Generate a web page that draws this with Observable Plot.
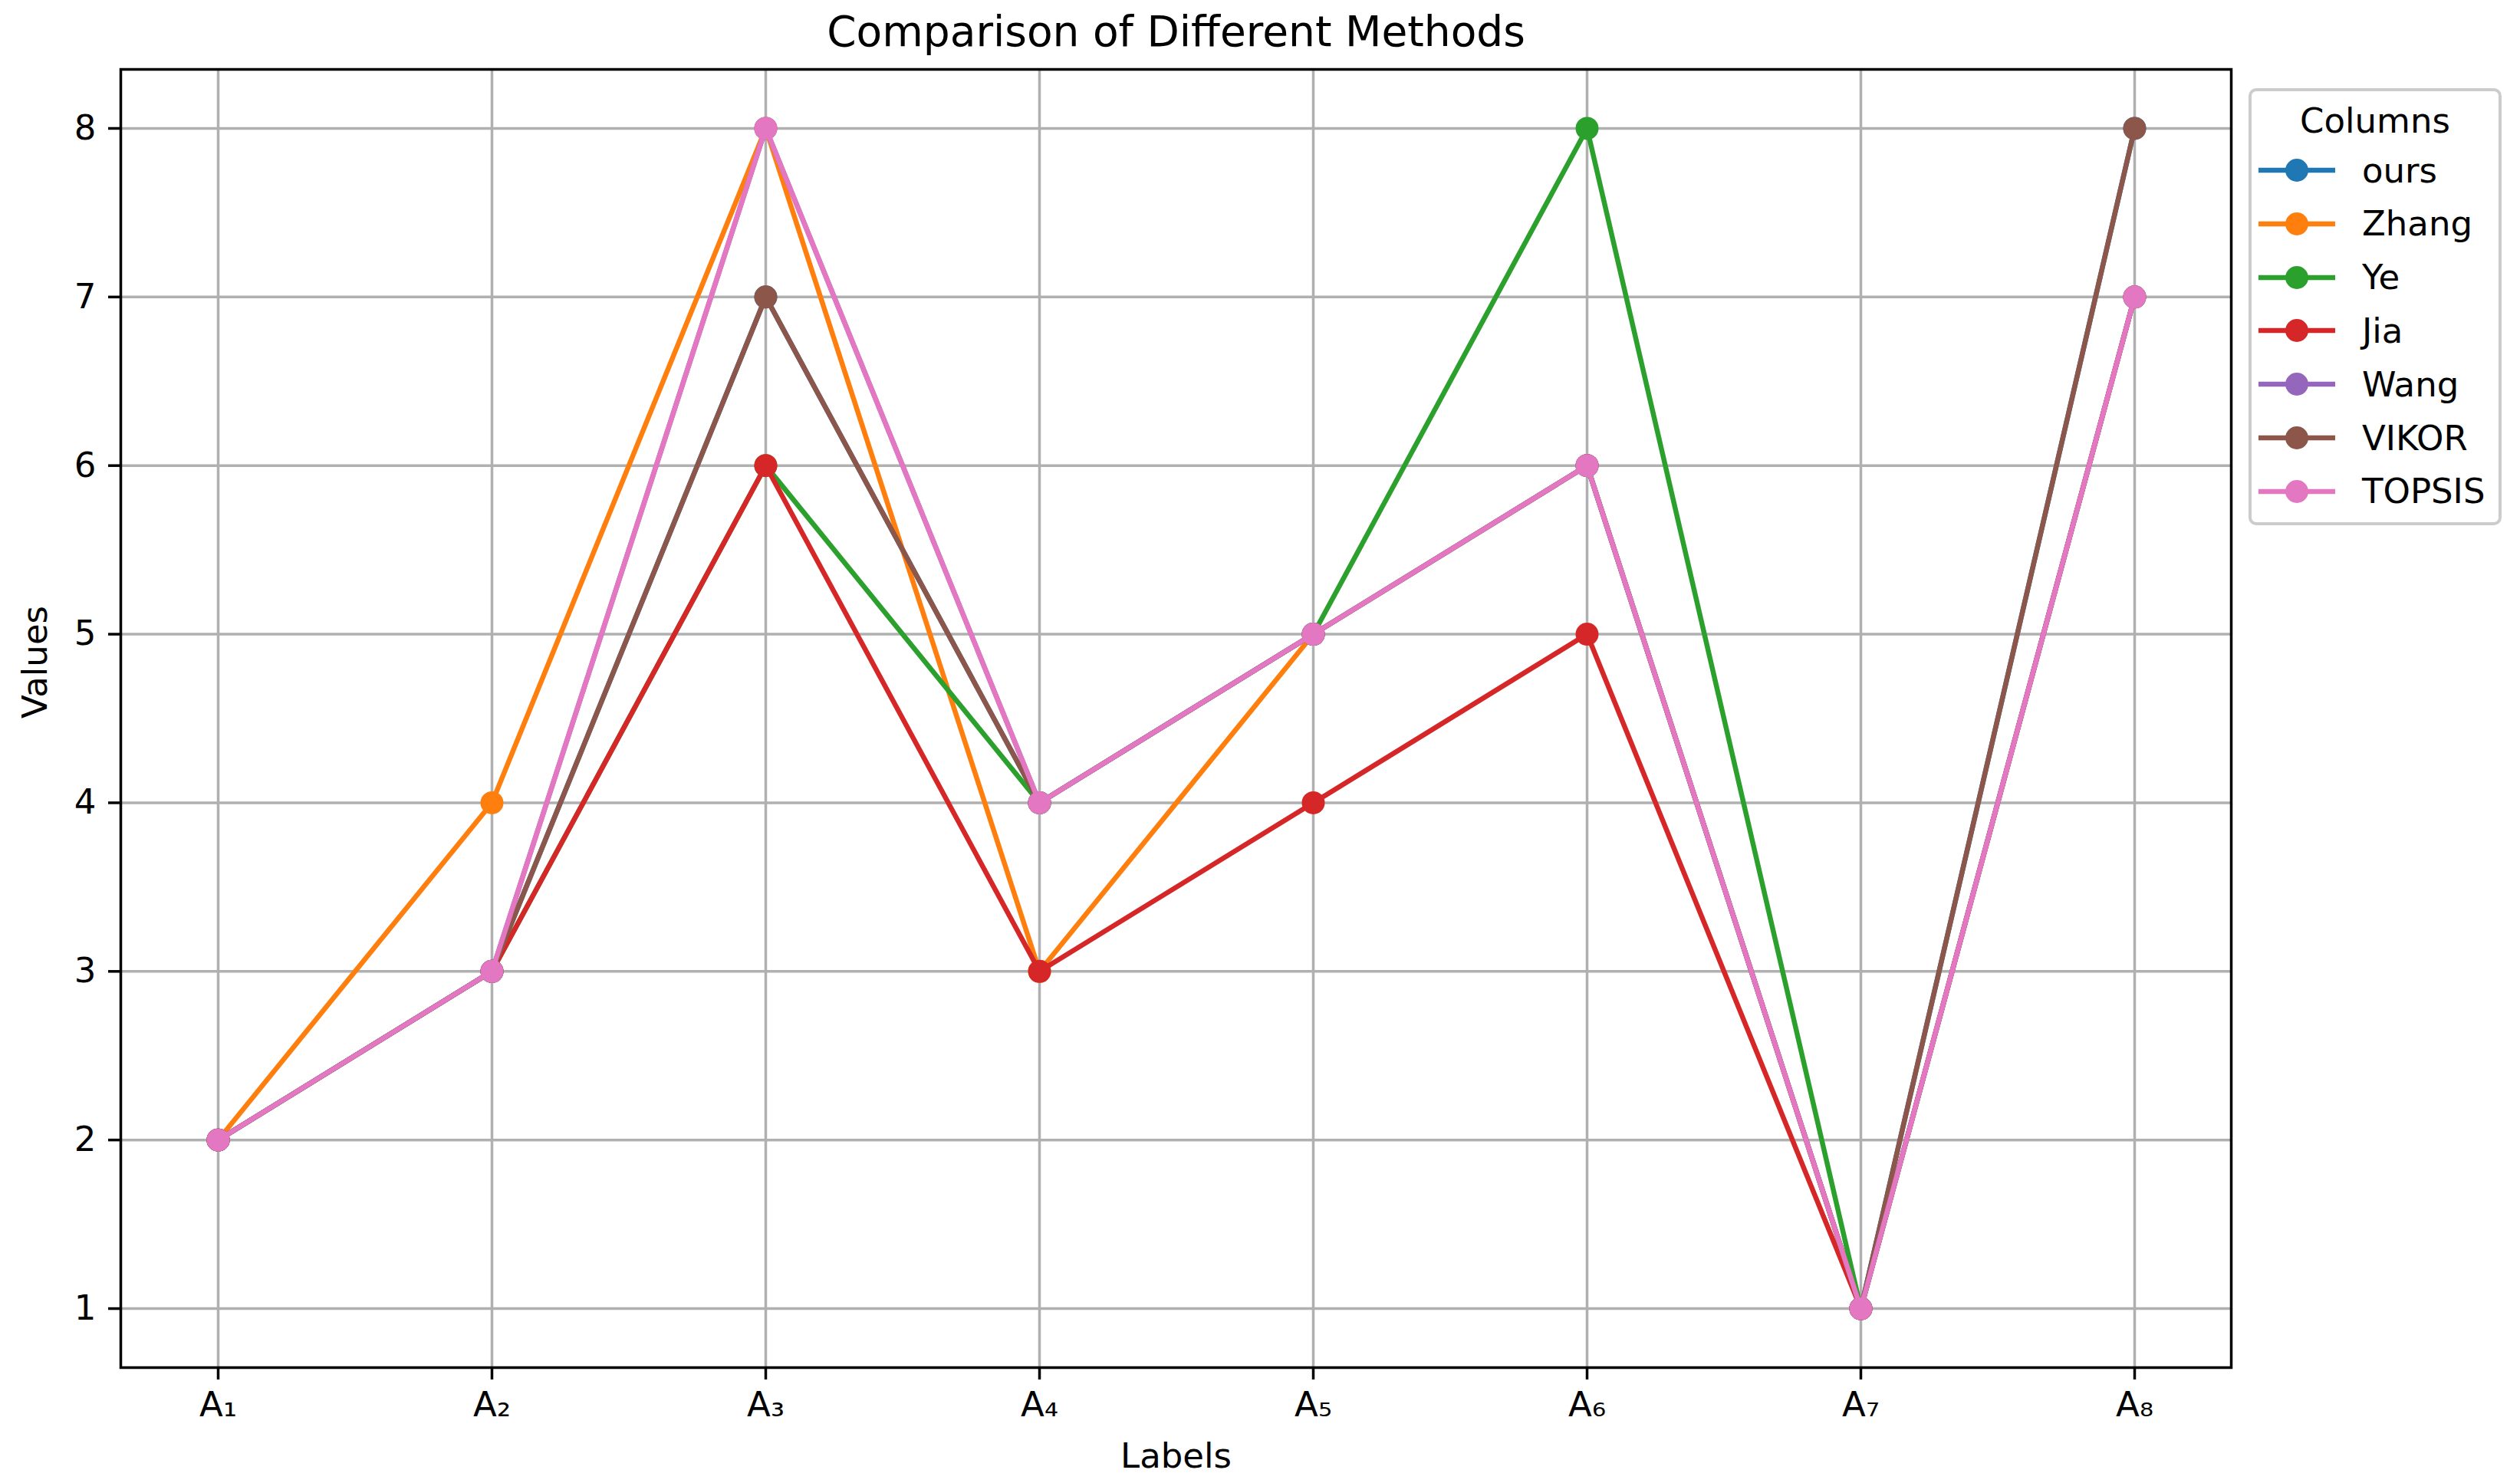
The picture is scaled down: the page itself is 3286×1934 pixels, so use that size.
<!DOCTYPE html>
<html>
<head>
<meta charset="utf-8">
<script src="https://cdn.jsdelivr.net/npm/d3@7"></script>
<script src="https://cdn.jsdelivr.net/npm/@observablehq/plot@0.6"></script>
<style>
  html, body { margin: 0; padding: 0; background: white; }
  #wrap { position: relative; width: 3286px; height: 1934px; font-family: "DejaVu Sans", sans-serif; }
  #legend { position: absolute; left: 2932px; top: 115px; width: 330px; height: 570px; box-sizing: border-box;
            border: 4px solid #cccccc; border-radius: 10px; background: rgba(255,255,255,0.8); }
  #legend .title { position: absolute; left: 0; right: 0; top: 38px; transform: translateY(-50%); text-align: center; font-size: 45px; line-height: 1; color: #000; }
  #legend .item { position: absolute; left: 9px; height: 40px; transform: translateY(-50%); display: flex; align-items: center; }
  #legend .item span { position: absolute; left: 135px; font-size: 45px; line-height: 1; white-space: nowrap; color: #000; }
</style>
</head>
<body>
<div id="wrap"></div>
<script>
const labels = ["A₁", "A₂", "A₃", "A₄", "A₅", "A₆", "A₇", "A₈"];
const seriesNames = ["ours", "Zhang", "Ye", "Jia", "Wang", "VIKOR", "TOPSIS"];
const colors = ["#1f77b4", "#ff7f0e", "#2ca02c", "#d62728", "#9467bd", "#8c564b", "#e377c2"];
const ours   = [2, 3, 7, 4, 5, 6, 1, 8];
const zhang  = [2, 4, 8, 3, 5, 6, 1, 7];
const ye     = [2, 3, 6, 4, 5, 8, 1, 7];
const jia    = [2, 3, 6, 3, 4, 5, 1, 7];
const wang   = [2, 3, 8, 4, 5, 6, 1, 7];
const vikor  = [2, 3, 7, 4, 5, 6, 1, 8];
const topsis = [2, 3, 8, 4, 5, 6, 1, 7];
const yTicks = [1, 2, 3, 4, 5, 6, 7, 8];

const seriesValues = [ours, zhang, ye, jia, wang, vikor, topsis];

const seriesMarks = [];
seriesValues.forEach((vals, k) => {
  const rows = vals.map((v, i) => ({label: labels[i], value: v}));
  seriesMarks.push(Plot.line(rows, {x: "label", y: "value", stroke: colors[k], strokeWidth: 6.5}));
  seriesMarks.push(Plot.dot(rows, {x: "label", y: "value", r: 15, fill: colors[k], stroke: null}));
});

const chart = Plot.plot({
  width: 3286,
  height: 1934,
  marginLeft: 157,
  marginRight: 377,
  marginTop: 90,
  marginBottom: 151,
  style: {fontFamily: "DejaVu Sans", fontSize: "45px", color: "black", background: "white"},
  x: {type: "point", domain: labels, padding: 0.35},
  y: {domain: [0.65, 8.35]},
  marks: [
    Plot.gridX(labels, {stroke: "#b0b0b0", strokeOpacity: 1, strokeWidth: 3.5}),
    Plot.gridY(yTicks, {stroke: "#b0b0b0", strokeOpacity: 1, strokeWidth: 3.5}),
    ...seriesMarks,
    Plot.frame({stroke: "black", strokeWidth: 3.5}),
    Plot.axisX(labels, {tickSize: 16, tickPadding: 16, fontSize: 45, strokeWidth: 3.5, label: null}),
    Plot.axisY(yTicks, {tickSize: 16, tickPadding: 16, fontSize: 45, strokeWidth: 3.5, label: null, tickFormat: d3.format("d")}),
    Plot.text(["Comparison of Different Methods"], {frameAnchor: "top", dy: -48, fontSize: 55, lineAnchor: "middle", fill: "black"}),
    Plot.text(["Labels"], {frameAnchor: "bottom", dy: 116, fontSize: 45, lineAnchor: "middle", fill: "black"}),
    Plot.text(["Values"], {frameAnchor: "left", dx: -111, rotate: -90, fontSize: 45, lineAnchor: "middle", fill: "black"})
  ]
});

const wrap = document.getElementById("wrap");
wrap.appendChild(chart);

const legend = document.createElement("div");
legend.id = "legend";
const t = document.createElement("div");
t.className = "title";
t.textContent = "Columns";
legend.appendChild(t);
seriesNames.forEach((name, k) => {
  const item = document.createElement("div");
  item.className = "item";
  item.style.top = (222 + 69.8 * k - 115 - 4) + "px";
  item.innerHTML = `<svg width="100" height="40"><line x1="0" x2="100" y1="20" y2="20" stroke="${colors[k]}" stroke-width="6.5"/><circle cx="50" cy="20" r="15" fill="${colors[k]}"/></svg><span>${name}</span>`;
  legend.appendChild(item);
});
wrap.appendChild(legend);
</script>
</body>
</html>
